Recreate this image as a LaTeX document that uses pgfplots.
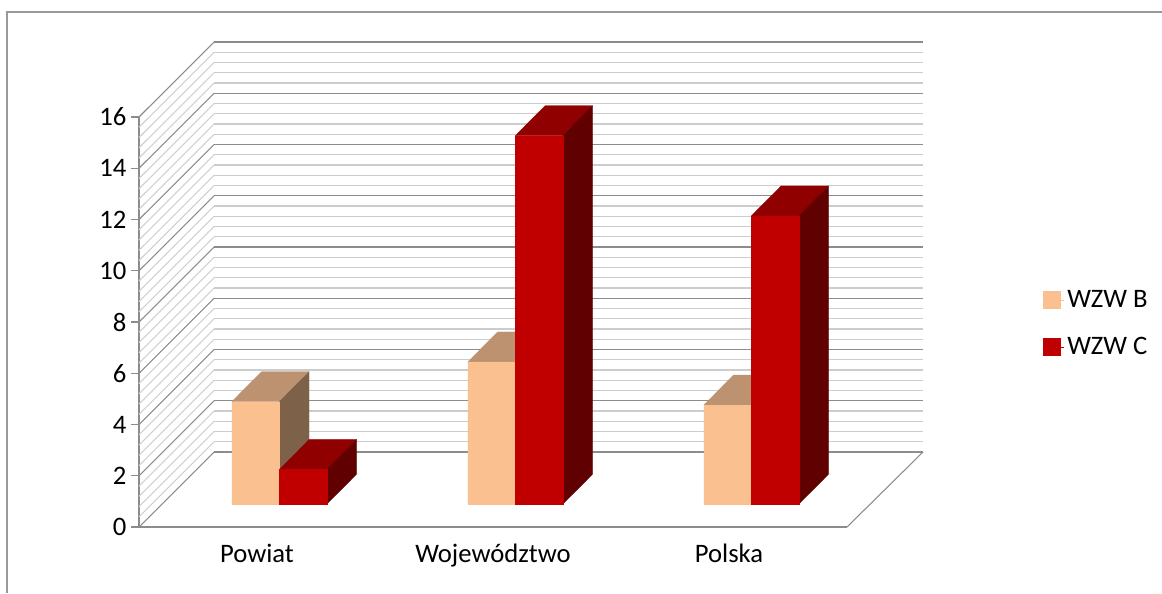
\documentclass[border=0pt]{standalone}
\usepackage{pgfplots}
\pgfplotsset{compat=1.18}
\usepackage{fontspec}
\setmainfont{Carlito}
\definecolor{bfront}{HTML}{FAC090}
\definecolor{btop}{HTML}{BC9270}
\definecolor{bside}{HTML}{7D6148}
\definecolor{cfront}{HTML}{C00000}
\definecolor{ctop}{HTML}{900000}
\definecolor{cside}{HTML}{600000}
\definecolor{major}{HTML}{8C8C8C}
\definecolor{minorg}{HTML}{CCCCCC}
\definecolor{wallg}{HTML}{D0D0D0}
% category, side (-1 left, 0 right), value, front, top, side colours
\newcommand\tdbar[6]{%
  \pgfmathsetmacro\xl{#1+0.0945+#2*0.2013}%
  \pgfmathsetmacro\xr{\xl+0.2013}%
  \pgfmathsetmacro\xlb{\xl+0.126}%
  \pgfmathsetmacro\xrb{\xr+0.126}%
  \pgfmathsetmacro\yt{0.89+#3}%
  \pgfmathsetmacro\ytb{\yt+1.17}%
  \addplot[fill=#5,draw=#5,line width=0.2pt,forget plot] coordinates {(\xl,\yt)(\xr,\yt)(\xrb,\ytb)(\xlb,\ytb)(\xl,\yt)};
  \addplot[fill=#6,draw=#6,line width=0.2pt,forget plot] coordinates {(\xr,0.89)(\xrb,2.06)(\xrb,\ytb)(\xr,\yt)(\xr,0.89)};
  \addplot[fill=#4,draw=#4,line width=0.2pt,forget plot] coordinates {(\xl,0.89)(\xr,0.89)(\xr,\yt)(\xl,\yt)(\xl,0.89)};
}
\begin{document}
\begin{tikzpicture}[x=0.75pt,y=0.75pt]
\path[use as bounding box] (-139,-66) rectangle (1023,527);
\draw[color=black!40,line width=1pt] (1023,515) -- (-132,515) -- (-132,-66);
\begin{axis}[
  x=177pt,y=19.21875pt,
  xmin=-0.5,xmax=2.5,ymin=0,ymax=16,
  clip=false,
  axis x line=bottom,axis y line=left,
  axis line style={-,draw=major,line width=0.8pt},
  x axis line style={-},y axis line style={-},
  xtick={0,1,2},xticklabels={Powiat,Województwo,Polska},
  ytick={0,2,...,16},
  major tick style={draw=major,line width=0.8pt},
  xtick style={draw=none},
  tick align=outside,
  major tick length=6pt,
  tick label style={font=\fontsize{20}{24}\selectfont,text=black},
  yticklabel style={/pgf/number format/assume math mode=true},
  xticklabel style={yshift=-3.5pt},
  legend style={draw=none,fill=none,at={(1.2768,0.496)},anchor=west,inner sep=0pt,outer sep=0pt,
    row sep=17pt,font=\fontsize{20}{24}\selectfont},
  legend cell align=left,
  legend image code/.code={\fill[#1] (0pt,-6.4pt) rectangle (12.8pt,6.4pt);\path (0pt,0pt) -- (15.8pt,0pt);},
]
\pgfplotsforeachungrouped \v in {0.4,0.8,1.2,1.6,2.4,2.8,3.2,3.6,4.4,4.8,5.2,5.6,6.4,6.8,7.2,7.6,8.4,8.8,9.2,9.6,10.4,10.8,11.2,11.6,12.4,12.8,13.2,13.6,14.4,14.8,15.2,15.6}{
  \pgfmathsetmacro\vb{\v+2.927}
  \addplot[minorg,line width=0.8pt,forget plot] coordinates {(-0.182,\vb)(2.822,\vb)};
  \addplot[wallg,line width=0.8pt,forget plot] coordinates {(-0.5,\v)(-0.182,\vb)};
}
\pgfplotsforeachungrouped \v in {0,2,4,6,8,10,12,14,16}{
  \pgfmathsetmacro\vb{\v+2.927}
  \addplot[major,line width=0.8pt,forget plot] coordinates {(-0.182,\vb)(2.822,\vb)};
  \addplot[major,line width=0.8pt,forget plot] coordinates {(-0.5,\v)(-0.182,\vb)};
}
\addplot[major,line width=0.8pt,forget plot] coordinates {(2.5,0)(2.822,2.927)};
\tdbar{0}{-1}{4.00}{bfront}{btop}{bside}
\tdbar{0}{0}{1.35}{cfront}{ctop}{cside}
\tdbar{1}{-1}{5.55}{bfront}{btop}{bside}
\tdbar{1}{0}{14.38}{cfront}{ctop}{cside}
\tdbar{2}{-1}{3.87}{bfront}{btop}{bside}
\tdbar{2}{0}{11.25}{cfront}{ctop}{cside}
\addlegendimage{bfront}
\addlegendentry{WZW B}
\addlegendimage{cfront}
\addlegendentry{WZW C}
\end{axis}
\end{tikzpicture}
\end{document}
